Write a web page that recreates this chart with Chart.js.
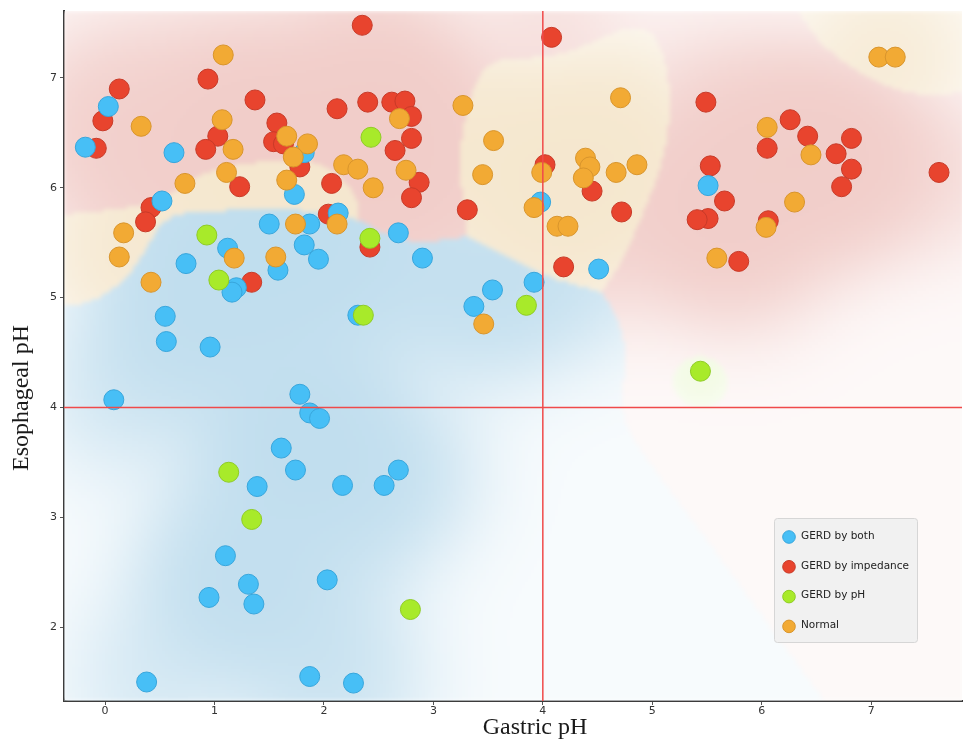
<!DOCTYPE html>
<html lang="en">

<head>
    <meta charset="UTF-8">
    <title>Gastric vs Esophageal pH</title>
    <script src="https://cdn.jsdelivr.net/npm/chart.js"></script>
    <style>
        body {
            margin: 0;
            background: #ffffff;
        }

        #chart {
            display: block;
        }
    </style>
</head>

<body>

    <canvas id="chart" width="973" height="742"></canvas>

    <script>
        // GERD by both
        const bothX = [-0.18, 0.03, 0.63, 0.52, 0.74, 0.55, 0.56, 0.96, 0.08, 1.12, 1.20, 1.16, 1.50, 1.58, 1.73,
            1.82, 1.87, 1.82, 1.95, 2.13, 2.31, 2.68, 2.90, 3.37, 3.54, 3.92, 3.98, 4.51, 5.51, 1.78, 1.87, 1.96,
            1.61, 1.74, 1.39, 2.17, 2.55, 2.68, 1.10, 1.31, 0.95, 1.36, 2.03, 0.38, 1.87, 2.27];
        const bothY = [6.37, 6.74, 6.32, 5.88, 5.31, 4.83, 4.60, 4.55, 4.07, 5.45, 5.09, 5.05, 5.67, 5.25, 5.94,
            5.48, 5.67, 6.32, 5.35, 5.77, 4.84, 5.59, 5.36, 4.92, 5.07, 5.14, 5.87, 5.26, 6.02, 4.12, 3.95, 3.90,
            3.63, 3.43, 3.28, 3.29, 3.29, 3.43, 2.65, 2.39, 2.27, 2.21, 2.43, 1.50, 1.55, 1.49];

        // GERD by impedance
        const impX = [0.13, -0.02, -0.08, 0.42, 0.37, 0.94, 1.03, 0.92, 1.23, 1.37, 1.57, 1.54, 1.63, 1.78, 2.12,
            2.07, 2.04, 1.34, 2.35, 4.08, 2.40, 2.62, 2.74, 2.80, 2.80, 2.65, 2.87, 2.80, 2.42, 3.31, 4.02, 4.45,
            4.19, 4.72, 5.49, 6.26, 6.42, 6.05, 6.82, 6.68, 6.82, 6.73, 7.62, 5.53, 5.66, 5.51, 5.41, 6.06, 5.79];
        const impY = [6.90, 6.61, 6.36, 5.82, 5.69, 6.99, 6.47, 6.35, 6.01, 6.80, 6.59, 6.42, 6.40, 6.19, 6.72,
            6.04, 5.76, 5.14, 7.48, 7.37, 6.78, 6.78, 6.79, 6.65, 6.45, 6.34, 6.05, 5.91, 5.46, 5.80, 6.21, 5.97,
            5.28, 5.78, 6.78, 6.62, 6.47, 6.36, 6.45, 6.31, 6.17, 6.01, 6.14, 6.20, 5.88, 5.72, 5.71, 5.70, 5.33];

        // GERD by pH
        const phX = [0.93, 1.04, 2.43, 2.42, 2.36, 3.85, 1.13, 1.34, 2.79, 5.44];
        const phY = [5.57, 5.16, 6.46, 5.54, 4.84, 4.93, 3.41, 2.98, 2.16, 4.33];

        // Normal
        const normX = [0.33, 1.08, 1.07, 1.17, 1.11, 0.73, 0.17, 0.13, 0.42, 1.18, 1.66, 1.85, 1.72, 1.66, 1.74,
            1.56, 2.12, 2.69, 2.18, 2.31, 2.75, 2.45, 3.27, 3.55, 3.45, 3.99, 3.92, 4.13, 4.23, 4.39, 4.43, 4.37,
            4.67, 4.86, 4.71, 7.07, 7.22, 6.05, 6.45, 6.30, 6.04, 5.59, 3.46];
        const normY = [6.56, 7.21, 6.62, 6.35, 6.14, 6.04, 5.59, 5.37, 5.14, 5.36, 6.47, 6.40, 6.28, 6.07, 5.67,
            5.37, 5.67, 6.63, 6.21, 6.17, 6.16, 6.00, 6.75, 6.43, 6.12, 6.14, 5.82, 5.65, 5.65, 6.27, 6.19, 6.09,
            6.14, 6.21, 6.82, 7.19, 7.19, 6.55, 6.30, 5.87, 5.64, 5.36, 4.76];

        const groupNames = ['GERD by both', 'GERD by impedance', 'GERD by pH', 'Normal'];
        const xTicks = [0, 1, 2, 3, 4, 5, 6, 7];
        const yTicks = [2, 3, 4, 5, 6, 7];
        const gastricCut = 4;
        const esoCut = 4;

        const fills = ['#47bff6', '#e8442e', '#a8ea2a', '#f2aa34'];
        const borders = ['#38a6dc', '#c83a28', '#8fcc24', '#d9952c'];
        // light tints for the background map (same order as groups)
        const tints = [[178, 214, 234], [238, 194, 189], [236, 248, 214], [243, 226, 196]];

        function toPoints(xs, ys) {
            return xs.map((v, i) => ({ x: v, y: ys[i] }));
        }

        const groups = [toPoints(bothX, bothY), toPoints(impX, impY), toPoints(phX, phY), toPoints(normX, normY)];

        // smooth class map painted under the points
        const heatPlugin = {
            id: 'heat',
            beforeDatasetsDraw(chart) {
                const { ctx, chartArea: a, scales: { x, y } } = chart;
                const step = 3;
                const w = Math.ceil((a.right - a.left) / step);
                const h = Math.ceil((a.bottom - a.top) / step);
                const off = document.createElement('canvas');
                off.width = w;
                off.height = h;
                const octx = off.getContext('2d');
                const img = octx.createImageData(w, h);
                const sig = [0.5, 0.5, 0.27, 0.5];
                const wide = 2 * 1.8 * 1.8;
                for (let j = 0; j < h; j++) {
                    const vy = y.getValueForPixel(a.top + (j + 0.5) * step);
                    for (let i = 0; i < w; i++) {
                        const vx = x.getValueForPixel(a.left + (i + 0.5) * step);
                        let best = 0, bestS = -1, bestN = 0;
                        for (let g = 0; g < groups.length; g++) {
                            const s2 = 2 * sig[g] * sig[g];
                            let n = 0, f = 0;
                            for (const p of groups[g]) {
                                const dx = p.x - vx, dy = p.y - vy;
                                const d = dx * dx + dy * dy;
                                n += Math.exp(-d / s2);
                                if (g !== 2) f += Math.exp(-d / wide);
                            }
                            const s = n + 0.04 * f;
                            if (s > bestS) { bestS = s; best = g; bestN = n; }
                        }
                        let t = 0.1 + 0.72 * (1 - Math.exp(-bestN / 1.5));
                        if (best === 2) t = 0.15 + 0.5 * bestN;
                        const c = tints[best];
                        const k = (j * w + i) * 4;
                        img.data[k] = 255 + (c[0] - 255) * t;
                        img.data[k + 1] = 255 + (c[1] - 255) * t;
                        img.data[k + 2] = 255 + (c[2] - 255) * t;
                        img.data[k + 3] = 255;
                    }
                }
                octx.putImageData(img, 0, 0);
                ctx.save();
                ctx.beginPath();
                ctx.rect(a.left, a.top, a.right - a.left, a.bottom - a.top);
                ctx.clip();
                ctx.imageSmoothingEnabled = true;
                ctx.filter = 'blur(2px)';
                ctx.drawImage(off, a.left, a.top, w * step, h * step);
                ctx.restore();
            }
        };

        // red cut-off lines at pH 4
        const cutPlugin = {
            id: 'cuts',
            afterDatasetsDraw(chart) {
                const { ctx, chartArea: a, scales: { x, y } } = chart;
                const px = x.getPixelForValue(gastricCut);
                const py = y.getPixelForValue(esoCut);
                ctx.save();
                ctx.strokeStyle = '#f04a4a';
                ctx.lineWidth = 1.5;
                ctx.beginPath();
                ctx.moveTo(px, a.top);
                ctx.lineTo(px, a.bottom);
                ctx.moveTo(a.left, py);
                ctx.lineTo(a.right, py);
                ctx.stroke();
                ctx.restore();
            }
        };

        // axis titles in serif, and the boxed legend
        const decorPlugin = {
            id: 'decor',
            afterDraw(chart) {
                const { ctx, chartArea: a } = chart;
                ctx.save();
                ctx.fillStyle = '#1a1a1a';
                ctx.font = '24px "Liberation Serif", "DejaVu Serif", serif';
                ctx.textAlign = 'center';
                ctx.textBaseline = 'middle';
                ctx.fillText('Gastric pH', (a.left + a.right) / 2 + 22, 728);
                ctx.translate(22, (a.top + a.bottom) / 2 + 42);
                ctx.rotate(-Math.PI / 2);
                ctx.fillText('Esophageal pH', 0, 0);
                ctx.restore();

                // legend box
                const bx = 774, by = 518, bw = 143, bh = 124;
                ctx.save();
                ctx.fillStyle = 'rgba(240,240,240,0.92)';
                ctx.strokeStyle = '#d6d6d6';
                ctx.lineWidth = 1;
                ctx.beginPath();
                ctx.roundRect(bx + 0.5, by + 0.5, bw, bh, 3);
                ctx.fill();
                ctx.stroke();
                ctx.font = '10.5px "DejaVu Sans", sans-serif';
                ctx.textBaseline = 'middle';
                ctx.textAlign = 'left';
                groupNames.forEach((name, i) => {
                    const cy = by + 19 + i * 29.8;
                    ctx.beginPath();
                    ctx.arc(bx + 15, cy, 6.3, 0, Math.PI * 2);
                    ctx.fillStyle = fills[i];
                    ctx.fill();
                    ctx.strokeStyle = borders[i];
                    ctx.stroke();
                    ctx.fillStyle = '#222';
                    ctx.fillText(name, bx + 27, cy - 1);
                });
                ctx.restore();
            }
        };

        const drawOrder = [2, 3, 1, 0];

        const ctx = document.getElementById('chart').getContext('2d');
        new Chart(ctx, {
            type: 'scatter',
            data: {
                datasets: groupNames.map((name, i) => ({
                    label: name,
                    data: groups[i],
                    backgroundColor: fills[i],
                    borderColor: borders[i],
                    borderWidth: 1,
                    pointRadius: 10,
                    order: drawOrder[i]
                }))
            },
            options: {
                responsive: false,
                animation: false,
                layout: { padding: { top: 10, right: 1, left: 0, bottom: 0 } },
                plugins: {
                    legend: { display: false },
                    tooltip: { enabled: false }
                },
                scales: {
                    x: {
                        type: 'linear',
                        min: -0.375,
                        max: 7.83,
                        afterFit(scale) { scale.height = 41; },
                        ticks: {
                            stepSize: 1,
                            includeBounds: false,
                            padding: 0,
                            color: '#333',
                            font: { family: '"DejaVu Sans", sans-serif', size: 11 },
                            callback: v => xTicks.includes(v) ? v : ''
                        },
                        grid: { drawOnChartArea: false, drawTicks: true, tickLength: 4, color: '#555' },
                        border: { display: true, color: '#3c3c3c', width: 2 }
                    },
                    y: {
                        type: 'linear',
                        min: 1.327,
                        max: 7.61,
                        afterFit(scale) { scale.width = 64; },
                        ticks: {
                            stepSize: 1,
                            includeBounds: false,
                            padding: 3,
                            color: '#333',
                            font: { family: '"DejaVu Sans", sans-serif', size: 11 },
                            callback: v => yTicks.includes(v) ? v : ''
                        },
                        grid: { drawOnChartArea: false, drawTicks: true, tickLength: 4, color: '#555' },
                        border: { display: true, color: '#3c3c3c', width: 2 }
                    }
                }
            },
            plugins: [heatPlugin, cutPlugin, decorPlugin]
        });
    </script>

</body>

</html>
